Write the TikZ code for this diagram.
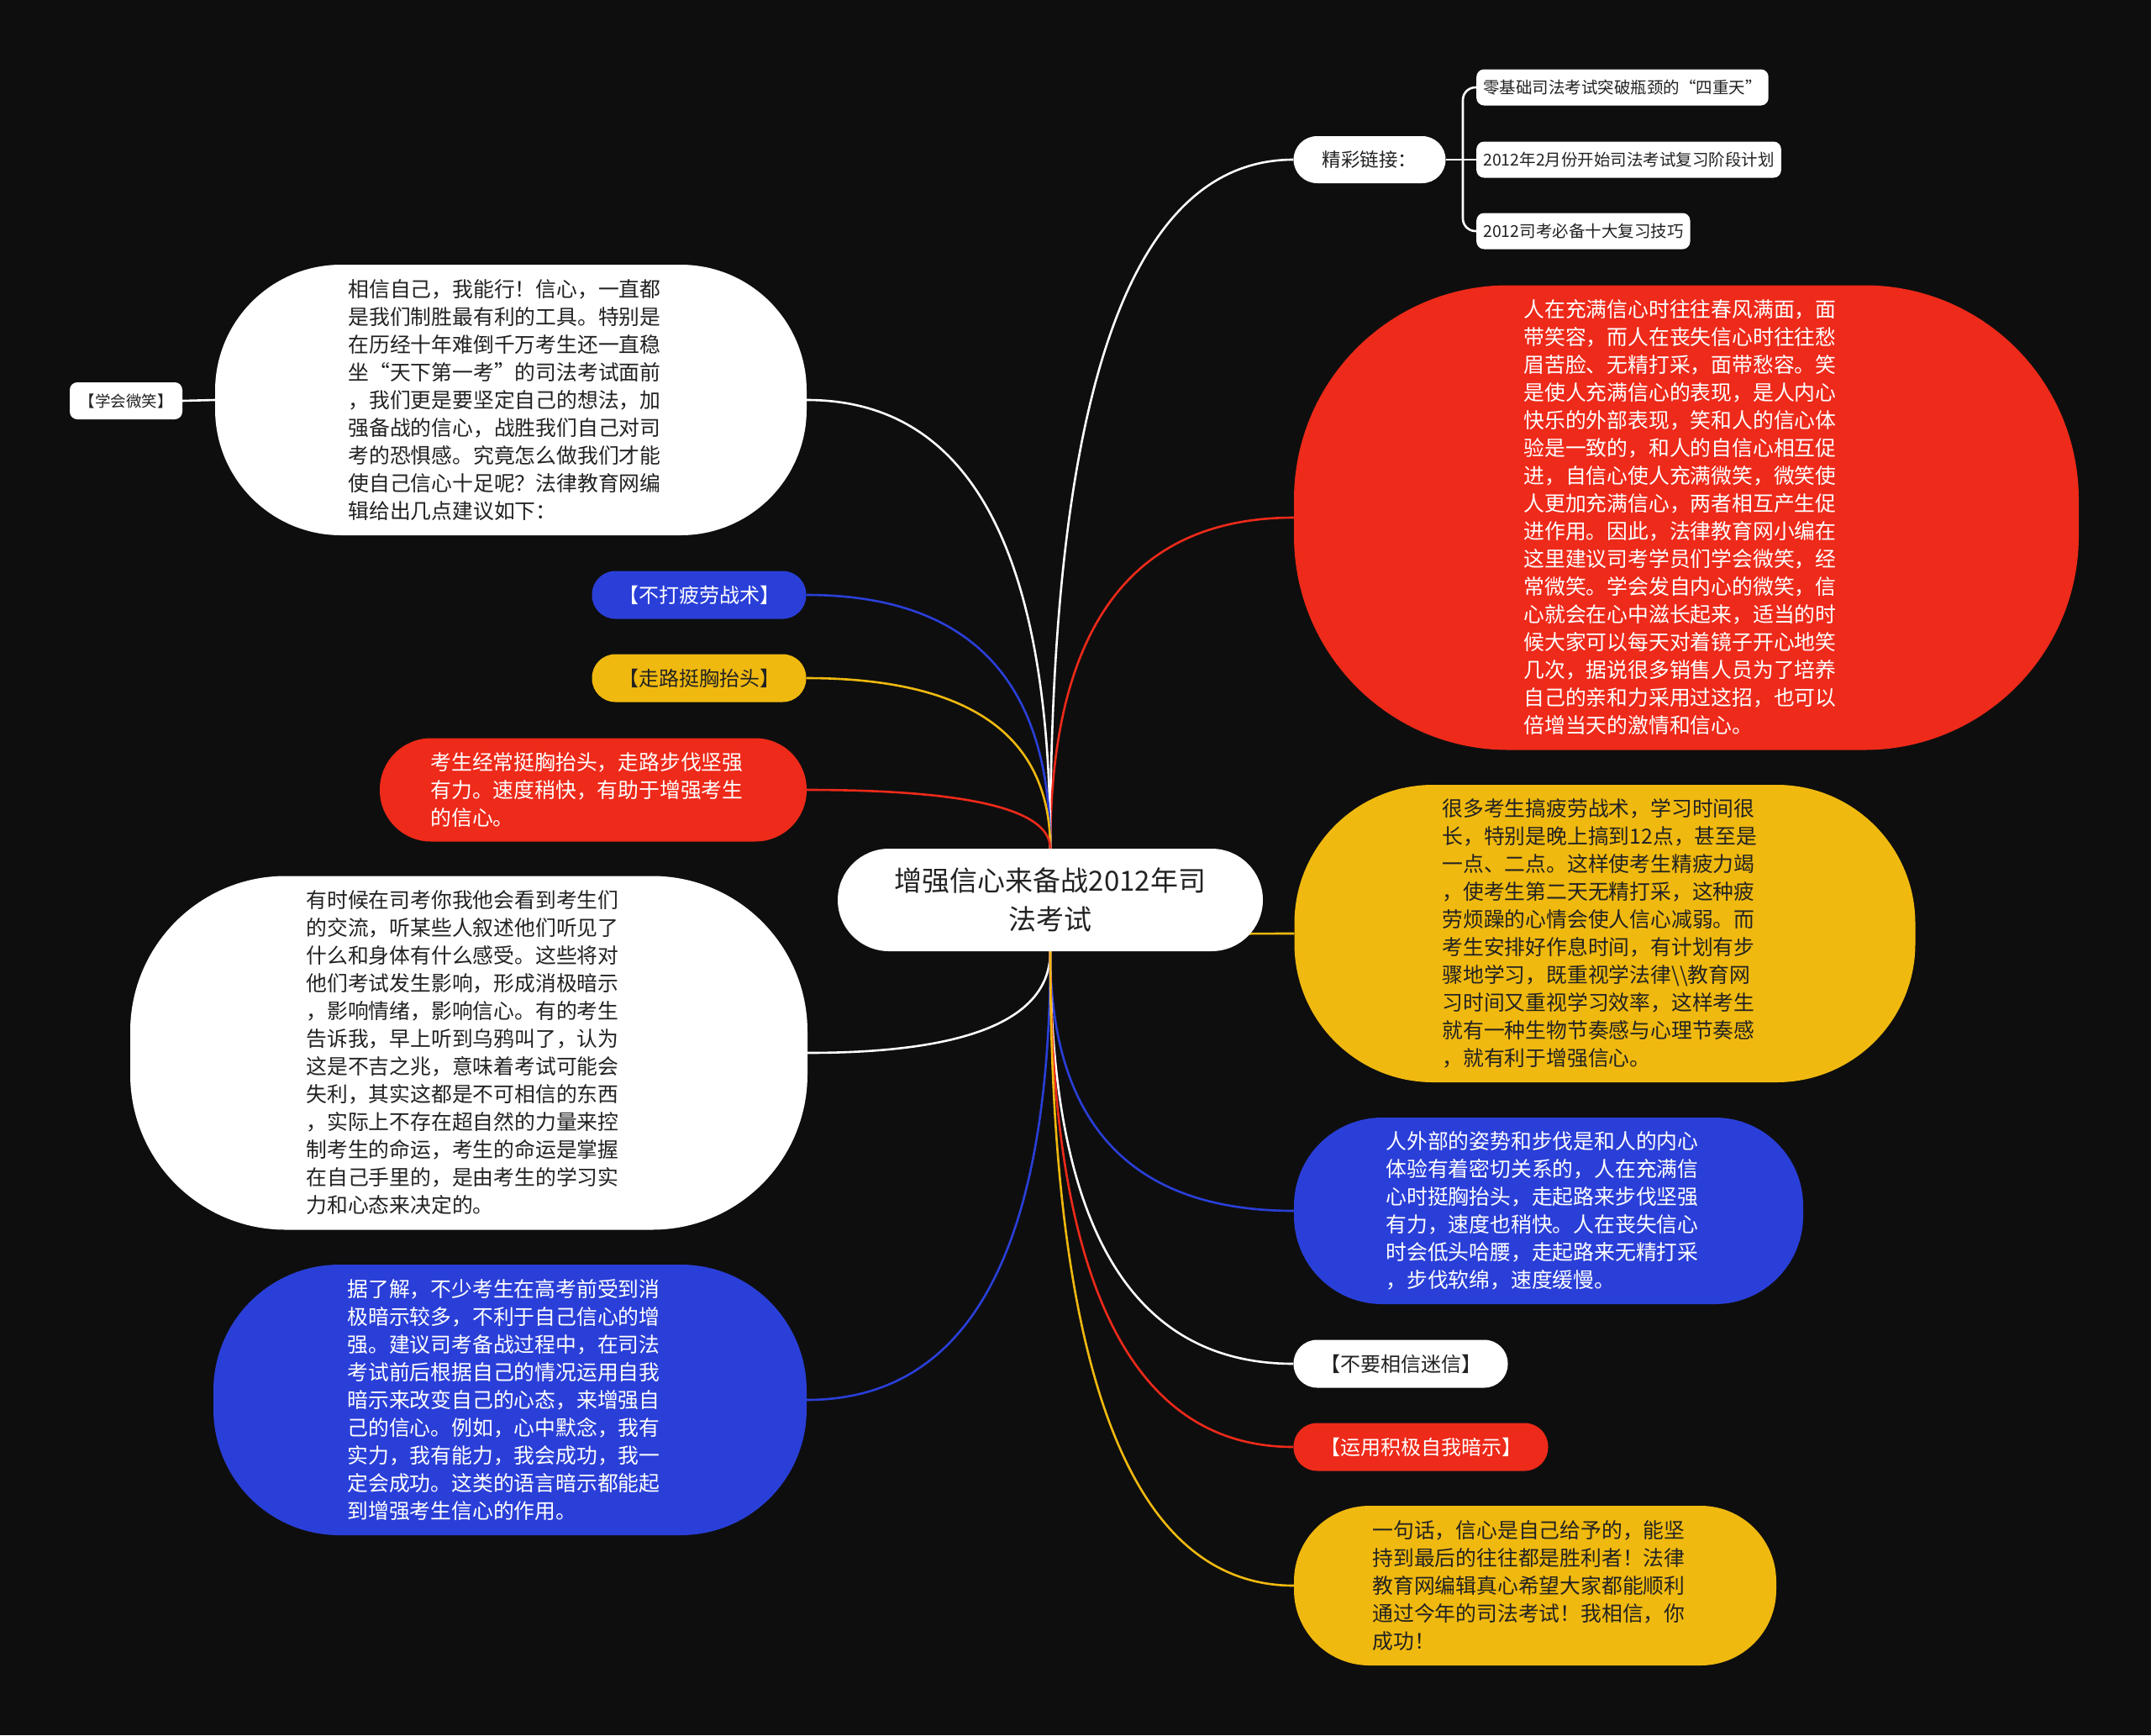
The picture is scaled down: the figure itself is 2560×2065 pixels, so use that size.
\documentclass[tikz,border=0pt]{standalone}
\usepackage{fontspec}
\setmainfont{Noto Sans CJK SC}
\usetikzlibrary{calc}
\definecolor{bgc}{HTML}{0E0E0E}
\definecolor{cred}{HTML}{EE2A1A}
\definecolor{cyel}{HTML}{F0B90F}
\definecolor{cblu}{HTML}{2A3FD8}
\definecolor{ctxt}{HTML}{222222}
\pgfdeclarelayer{edges}
\pgfdeclarelayer{back}
\pgfsetlayers{back,edges,main}
\newcommand\fq[1]{{\addfontfeature{CharacterWidth=Full}#1}}
\newcommand\pad{\rule{15pt}{0pt}}
\newcommand\cnx[3]{\draw[conn,#1] (#2) .. controls ($(#2)!0.6667!(#2 |- #3)$) and ($(#3)!0.6667!(#2 |- #3)$) .. (#3);}
\tikzset{
  conn/.style={line width=2.6pt},
  body/.style={font=\fontsize{24.8}{33}\selectfont, align=left, inner sep=0pt},
  pill/.style={font=\fontsize{24}{28}\selectfont, inner sep=0pt, minimum height=57, rounded corners=28},
  ctrn/.style={fill=white, text=ctxt, font=\fontsize{33}{46}\selectfont, align=center, inner sep=0pt,
    minimum width=506, minimum height=122, rounded corners=61},
  jcn/.style={fill=white, text=ctxt, font=\fontsize{22.5}{26}\selectfont, inner sep=0pt,
    minimum width=181, minimum height=56, rounded corners=28},
  lnk/.style={fill=white, text=ctxt, font=\fontsize{19.5}{24}\selectfont, inner xsep=8pt, inner ysep=0pt,
    minimum height=43, rounded corners=9, anchor=west},
  smallbox/.style={fill=white, text=ctxt, font=\fontsize{18.5}{22}\selectfont, inner sep=0pt,
    minimum width=134, minimum height=44, rounded corners=9},
  onwhite/.style={fill=white, text=ctxt},
  onred/.style={fill=cred, text=white},
  onblue/.style={fill=cblu, text=white},
  onyel/.style={fill=cyel, text=ctxt},
}
\begin{document}
\begin{tikzpicture}[x=1pt,y=-1pt]
\useasboundingbox (0,0) rectangle (2560,2065);
\begin{pgfonlayer}{back}
\fill[bgc] (0,0) rectangle (2560,2065);
\end{pgfonlayer}

% central node
\node[ctrn] (ctr) at (1250,1071) {增强信心来备战2012年司\\法考试};

% links
\node[jcn] (jc) at (1630,190) {精彩链接：};
\node[lnk] (l1) at (1757,104) {零基础司法考试突破瓶颈的\fq{“}四重天\fq{”}};
\node[lnk] (l2) at (1757,190) {2012年2月份开始司法考试复习阶段计划};
\node[lnk] (l3) at (1757,275) {2012司考必备十大复习技巧};
\coordinate (jcb) at (1741,190);

% left side
\node[body, onwhite, minimum width=704, minimum height=322, rounded corners=150] (A) at (608,476) {相信自己，我能行！信心，一直都\pad\\是我们制胜最有利的工具。特别是\\在历经十年难倒千万考生还一直稳\\坐\fq{“}天下第一考\fq{”}的司法考试面前\\，我们更是要坚定自己的想法，加\\强备战的信心，战胜我们自己对司\\考的恐惧感。究竟怎么做我们才能\\使自己信心十足呢？法律教育网编\\辑给出几点建议如下：};
\node[smallbox] (xw) at (150,477) {【学会微笑】};
\node[pill, onblue, minimum width=255] (B1) at (832,708) {【不打疲劳战术】};
\node[pill, onyel, minimum width=255] (B2) at (832,807) {【走路挺胸抬头】};
\node[body, onred, minimum width=508, minimum height=123, rounded corners=61] (C) at (706,940) {考生经常挺胸抬头，走路步伐坚强\pad\\有力。速度稍快，有助于增强考生\\的信心。};
\node[body, onwhite, minimum width=806, minimum height=421, rounded corners=185] (D) at (558,1253) {有时候在司考你我他会看到考生们\pad\\的交流，听某些人叙述他们听见了\\什么和身体有什么感受。这些将对\\他们考试发生影响，形成消极暗示\\，影响情绪，影响信心。有的考生\\告诉我，早上听到乌鸦叫了，认为\\这是不吉之兆，意味着考试可能会\\失利，其实这都是不可相信的东西\\，实际上不存在超自然的力量来控\\制考生的命运，考生的命运是掌握\\在自己手里的，是由考生的学习实\\力和心态来决定的。};
\node[body, onblue, minimum width=706, minimum height=322, rounded corners=150] (E) at (607,1666) {据了解，不少考生在高考前受到消\pad\\极暗示较多，不利于自己信心的增\\强。建议司考备战过程中，在司法\\考试前后根据自己的情况运用自我\\暗示来改变自己的心态，来增强自\\己的信心。例如，心中默念，我有\\实力，我有能力，我会成功，我一\\定会成功。这类的语言暗示都能起\\到增强考生信心的作用。};

% right side
\node[body, onred, minimum width=934, minimum height=553, rounded corners=255] (F) at (2007,616) {人在充满信心时往往春风满面，面\pad\\带笑容，而人在丧失信心时往往愁\\眉苦脸、无精打采，面带愁容。笑\\是使人充满信心的表现，是人内心\\快乐的外部表现，笑和人的信心体\\验是一致的，和人的自信心相互促\\进，自信心使人充满微笑，微笑使\\人更加充满信心，两者相互产生促\\进作用。因此，法律教育网小编在\\这里建议司考学员们学会微笑，经\\常微笑。学会发自内心的微笑，信\\心就会在心中滋长起来，适当的时\\候大家可以每天对着镜子开心地笑\\几次，据说很多销售人员为了培养\\自己的亲和力采用过这招，也可以\\倍增当天的激情和信心。};
\node[body, onyel, minimum width=739, minimum height=354, rounded corners=165] (G) at (1910,1111) {很多考生搞疲劳战术，学习时间很\pad\\长，特别是晚上搞到12点，甚至是\\一点、二点。这样使考生精疲力竭\\，使考生第二天无精打采，这种疲\\劳烦躁的心情会使人信心减弱。而\\考生安排好作息时间，有计划有步\\骤地学习，既重视学法律\textbackslash\textbackslash 教育网\\习时间又重视学习效率，这样考生\\就有一种生物节奏感与心理节奏感\\，就有利于增强信心。};
\node[body, onblue, minimum width=606, minimum height=222, rounded corners=105] (H) at (1843,1441) {人外部的姿势和步伐是和人的内心\pad\\体验有着密切关系的，人在充满信\\心时挺胸抬头，走起路来步伐坚强\\有力，速度也稍快。人在丧失信心\\时会低头哈腰，走起路来无精打采\\，步伐软绵，速度缓慢。};
\node[pill, onwhite, minimum width=255] (B3) at (1667,1623) {【不要相信迷信】};
\node[pill, onred, minimum width=303] (B4) at (1691,1722) {【运用积极自我暗示】};
\node[body, onyel, minimum width=574, minimum height=190, rounded corners=90] (I) at (1827,1887) {一句话，信心是自己给予的，能坚\pad\\持到最后的往往都是胜利者！法律\\教育网编辑真心希望大家都能顺利\\通过今年的司法考试！我相信，你\\成功！};

\begin{pgfonlayer}{edges}
\cnx{white}{ctr.north}{jc.west}
\cnx{cred}{ctr.north}{F.west}
\cnx{white}{ctr.north}{A.east}
\cnx{cblu}{ctr.north}{B1.east}
\cnx{cyel}{ctr.north}{B2.east}
\cnx{cred}{ctr.north}{C.east}
\cnx{white}{ctr.south}{D.east}
\cnx{cblu}{ctr.south}{E.east}
\cnx{cyel}{ctr.south}{G.west}
\cnx{cblu}{ctr.south}{H.west}
\cnx{white}{ctr.south}{B3.west}
\cnx{cred}{ctr.south}{B4.west}
\cnx{cyel}{ctr.south}{I.west}
\draw[conn,white] (jc.east) -- (l2.west);
\draw[conn,white,rounded corners=15] (jcb) |- (l1.west);
\draw[conn,white,rounded corners=15] (jcb) |- (l3.west);
\draw[conn,white] (xw.east) -- (A.west);
\end{pgfonlayer}
\end{tikzpicture}
\end{document}
